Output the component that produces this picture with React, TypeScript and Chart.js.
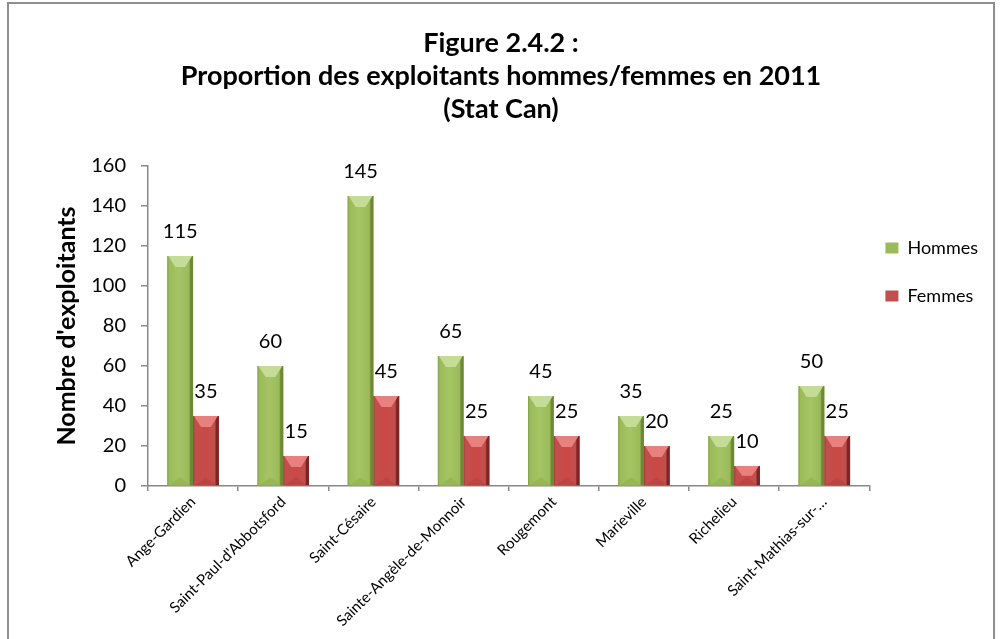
import React, { useEffect, useRef } from 'react';
import { Chart, registerables } from 'chart.js';

Chart.register(...registerables);

const titleLines = ['Figure 2.4.2 :', 'Proportion des exploitants hommes/femmes en 2011', '(Stat Can)'];
const categories = [
  'Ange-Gardien',
  "Saint-Paul-d'Abbotsford",
  'Saint-Césaire',
  'Sainte-Angèle-de-Monnoir',
  'Rougemont',
  'Marieville',
  'Richelieu',
  'Saint-Mathias-sur-…',
];
const seriesNames = ['Hommes', 'Femmes'];
const hommes = [115, 60, 145, 65, 45, 35, 25, 50];
const femmes = [35, 15, 45, 25, 25, 20, 10, 25];
const yAxisTitle = "Nombre d'exploitants";
const yMin = 0;
const yMax = 160;
const yStep = 20;

const FONT = "Lato, 'Open Sans', 'DejaVu Sans', sans-serif";

const palettes = [
  { base: '#9bbb59', light: '#a5c465', top: '#c4dc95', bottom: '#97b655', left: '#829e48', right: '#6e8936' },
  { base: '#c0504d', light: '#cb4845', top: '#e8817e', bottom: '#bb4542', left: '#a13836', right: '#7d2524' },
];

const bevelPlugin = {
  id: 'bevel',
  afterDatasetsDraw(chart: any) {
    const ctx = chart.ctx;
    chart.data.datasets.forEach((_ds: any, di: number) => {
      const meta = chart.getDatasetMeta(di);
      const pal = palettes[di];
      meta.data.forEach((bar: any) => {
        const p = bar.getProps(['x', 'y', 'base', 'width'], true);
        const w = p.width;
        const l = p.x - w / 2;
        const r = p.x + w / 2;
        const t = Math.min(p.y, p.base);
        const b = Math.max(p.y, p.base);
        const h = b - t;
        if (h <= 0) return;
        ctx.save();
        const g = ctx.createLinearGradient(l, 0, r, 0);
        g.addColorStop(0, pal.left);
        g.addColorStop(0.07, pal.base);
        g.addColorStop(0.45, pal.light);
        g.addColorStop(0.84, pal.base);
        g.addColorStop(0.9, pal.right);
        g.addColorStop(1, pal.right);
        ctx.fillStyle = g;
        ctx.fillRect(l, t, w, h);
        const dx = Math.min(w * 0.32, 8);
        const dy = Math.min(h / 2, 11);
        ctx.fillStyle = pal.bottom;
        ctx.beginPath();
        ctx.moveTo(l + 2, b);
        ctx.lineTo(r - 3, b);
        ctx.lineTo(p.x, b - Math.min(dy, 8));
        ctx.closePath();
        ctx.fill();
        ctx.fillStyle = pal.top;
        ctx.beginPath();
        ctx.moveTo(l + 1, t);
        ctx.lineTo(r - 1, t);
        ctx.lineTo(r - dx, t + dy);
        ctx.lineTo(l + dx, t + dy);
        ctx.closePath();
        ctx.fill();
        ctx.restore();
      });
    });
  },
};

const valueLabelPlugin = {
  id: 'valueLabels',
  afterDatasetsDraw(chart: any) {
    const ctx = chart.ctx;
    ctx.save();
    ctx.font = `20px ${FONT}`;
    ctx.fillStyle = '#000000';
    ctx.textAlign = 'center';
    ctx.textBaseline = 'alphabetic';
    chart.data.datasets.forEach((ds: any, di: number) => {
      const meta = chart.getDatasetMeta(di);
      meta.data.forEach((bar: any, i: number) => {
        const p = bar.getProps(['x', 'y'], true);
        ctx.fillText(String(ds.data[i]), p.x, p.y - 18);
      });
    });
    ctx.restore();
  },
};

const legendShiftPlugin = {
  id: 'legendShift',
  afterLayout(chart: any) {
    const lg = chart.legend;
    if (!lg) return;
    const dx = chart.chartArea.right + 16 - 30 - lg.left;
    lg.left += dx;
    lg.right += dx + 20;
    lg.width += 20;
    lg.top += 43;
    lg.bottom += 43;
  },
};

export default function App() {
  const canvasRef = useRef<HTMLCanvasElement | null>(null);

  useEffect(() => {
    if (!canvasRef.current) return;
    const chart = new Chart(canvasRef.current, {
      type: 'bar',
      data: {
        labels: categories,
        datasets: [
          {
            label: seriesNames[0],
            data: hommes,
            backgroundColor: palettes[0].base,
            borderWidth: 0,
            categoryPercentage: 2 / 3.5,
            barPercentage: 1,
          },
          {
            label: seriesNames[1],
            data: femmes,
            backgroundColor: palettes[1].base,
            borderWidth: 0,
            categoryPercentage: 2 / 3.5,
            barPercentage: 1,
          },
        ],
      },
      options: {
        animation: false,
        responsive: true,
        maintainAspectRatio: false,
        layout: { padding: { left: 0, right: 0, top: 0, bottom: 0 } },
        plugins: {
          title: {
            display: true,
            text: titleLines,
            color: '#000000',
            font: { family: FONT, size: 27, weight: 'bold', lineHeight: '33px' },
            padding: { top: 27, bottom: 40 },
          },
          legend: {
            display: true,
            position: 'right',
            align: 'start',
            fullSize: false,
            maxWidth: 134,
            labels: {
              color: '#000000',
              font: { family: FONT, size: 18 },
              boxWidth: 13,
              boxHeight: 11,
              padding: 30,
            },
          },
          tooltip: { enabled: false },
        },
        scales: {
          x: {
            afterFit: (s: any) => {
              s.height = 153;
            },
            grid: {
              display: true,
              drawOnChartArea: false,
              drawTicks: true,
              tickLength: 5,
              color: '#888888',
              lineWidth: 1.5,
              offset: true,
            },
            border: { display: true, color: '#888888', width: 1.5 },
            ticks: {
              color: '#000000',
              font: { family: FONT, size: 15 },
              maxRotation: 45,
              minRotation: 45,
              autoSkip: false,
              padding: 2,
            },
          },
          y: {
            min: yMin,
            max: yMax,
            afterFit: (s: any) => {
              s.width = 148;
            },
            grid: {
              display: true,
              drawOnChartArea: false,
              drawTicks: true,
              tickLength: 7,
              color: '#888888',
              lineWidth: 1.5,
            },
            border: { display: true, color: '#888888', width: 1.5 },
            ticks: {
              stepSize: yStep,
              color: '#000000',
              font: { family: FONT, size: 20 },
              padding: 15,
            },
            title: {
              display: true,
              text: yAxisTitle,
              color: '#000000',
              font: { family: FONT, size: 25, weight: 'bold' },
              padding: { top: 52, bottom: 0 },
            },
          },
        },
      },
      plugins: [bevelPlugin, valueLabelPlugin, legendShiftPlugin],
    });
    return () => chart.destroy();
  }, []);

  return (
    <div style={{ position: 'absolute', left: 0, top: 0, width: 1002, height: 639, background: '#ffffff', overflow: 'hidden' }}>
      <div
        style={{
          position: 'absolute',
          left: 7,
          top: 2,
          width: 988,
          height: 700,
          border: '2px solid #8e8e8e',
          boxSizing: 'border-box',
          pointerEvents: 'none',
        }}
      />
      <canvas ref={canvasRef} style={{ position: 'absolute', left: 0, top: 0 }} />
    </div>
  );
}
